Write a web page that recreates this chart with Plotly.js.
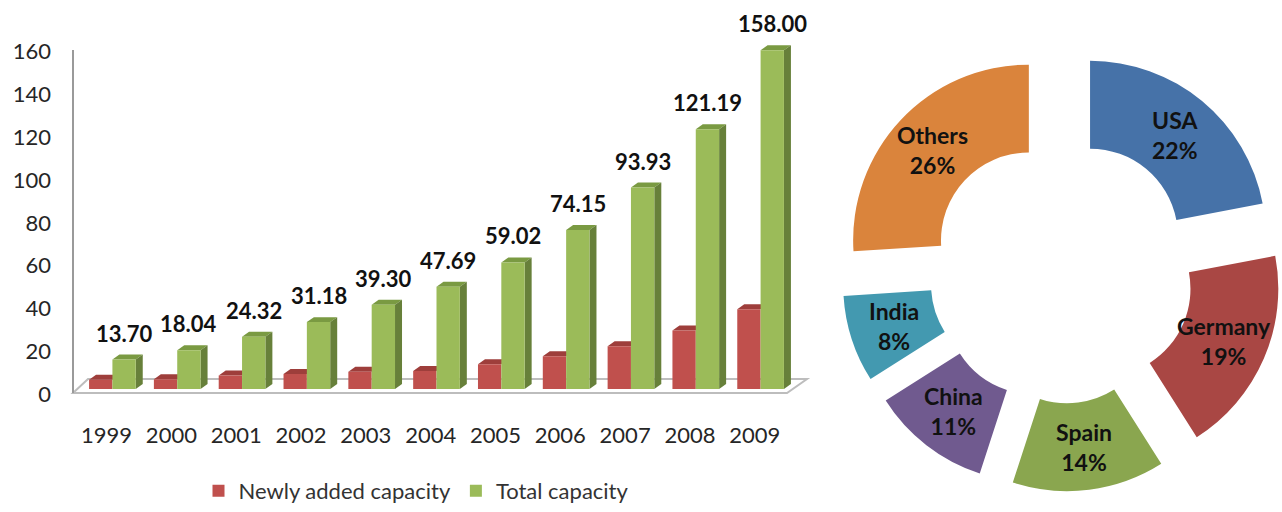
<!DOCTYPE html>
<html><head><meta charset="utf-8">
<script src="https://cdn.plot.ly/plotly-3.0.1.min.js"></script>
<style>html,body{margin:0;padding:0;background:#fff}#chart{width:1282px;height:512px}</style>
</head><body><div id="chart"></div>
<script>
// ---- data ----
const years = ['1999','2000','2001','2002','2003','2004','2005','2006','2007','2008','2009'];
const newlyAdded = [4.3, 4.5, 6.3, 7.0, 8.0, 8.4, 11.5, 15.3, 19.9, 27.3, 37.2];
const totalCapacity = [13.70, 18.04, 24.32, 31.18, 39.30, 47.69, 59.02, 74.15, 93.93, 121.19, 158.00];
const yTicks = [0, 20, 40, 60, 80, 100, 120, 140, 160];
const seriesNames = ['Newly added capacity', 'Total capacity'];
const countries = ['USA', 'Germany', 'Spain', 'China', 'India', 'Others'];
const shares = [22, 19, 14, 11, 8, 26];

// ---- styles ----
const W = 1282, H = 512;
const px = x => x / W, py = y => 1 - y / H;
const redFront = '#C0504D', redTop = '#9E3E3B';
const greenFront = '#9BBB59', greenTop = '#7A9A42', greenSide = '#67803A';
const countryColors = ['#4672A8', '#A94744', '#8AA64F', '#705A8F', '#4399B0', '#DA843C'];
const barW = 0.36, dX = 0.108, dY = 2.33;
const idx = years.map((_, i) => i);

// donut geometry (pixels)
const pieCx = 1062, pieCy = 271, pieBox = 442, pullFrac = 0.255, holeFrac = 0.5;
const pieR = pieBox / (2 + 2 * pullFrac);

const traces = [
  {type: 'bar', name: seriesNames[0], x: idx, y: newlyAdded, width: barW, offset: -barW,
   marker: {color: redFront, line: {width: 0}}, xaxis: 'x', yaxis: 'y', hoverinfo: 'skip'},
  {type: 'bar', name: seriesNames[1], x: idx, y: totalCapacity, width: barW, offset: 0,
   marker: {color: greenFront, line: {width: 0}}, xaxis: 'x', yaxis: 'y', hoverinfo: 'skip'},
  {type: 'pie', labels: countries, values: shares, sort: false, direction: 'clockwise', rotation: 0,
   hole: holeFrac, pull: pullFrac, marker: {colors: countryColors, line: {width: 0}},
   domain: {x: [px(pieCx - pieBox / 2), Math.min(1, px(pieCx + pieBox / 2))], y: [py(pieCy + pieBox / 2), py(pieCy - pieBox / 2)]},
   textinfo: 'none', showlegend: false, hoverinfo: 'skip'}
];

// 3D faces built from the data
const shapes = [];
idx.forEach(i => {
  const r = newlyAdded[i], g = totalCapacity[i];
  const rx0 = i - barW, rx1 = i, gx0 = i, gx1 = i + barW;
  shapes.push({type: 'path', xref: 'x', yref: 'y', layer: 'below', line: {width: 0}, fillcolor: redTop,
    path: `M${rx0},${r} L${rx0 + dX},${r + dY} L${rx1 + dX},${r + dY} L${rx1},${r} Z`});
  shapes.push({type: 'path', xref: 'x', yref: 'y', layer: 'below', line: {width: 0}, fillcolor: greenTop,
    path: `M${gx0},${g} L${gx0 + dX},${g + dY} L${gx1 + dX},${g + dY} L${gx1},${g} Z`});
  shapes.push({type: 'path', xref: 'x', yref: 'y', layer: 'below', line: {width: 0}, fillcolor: greenSide,
    path: `M${gx1},0 L${gx1},${g} L${gx1 + dX},${g + dY} L${gx1 + dX},${dY} Z`});
});
// floor and vertical axis line (decoration)
shapes.push({type: 'path', xref: 'paper', yref: 'paper', layer: 'below', fillcolor: 'rgba(0,0,0,0)',
  line: {color: '#BDBDBD', width: 2},
  path: `M${px(73)},${py(393)} L${px(787)},${py(393)} L${px(807)},${py(379)} L${px(88)},${py(379)} Z`});
shapes.push({type: 'line', xref: 'paper', yref: 'paper', layer: 'below', x0: px(73), x1: px(73), y0: py(50), y1: py(393),
  line: {color: '#9A9A9A', width: 2}});

const annotations = idx.map(i => ({
  x: i + barW / 2, y: totalCapacity[i], xref: 'x', yref: 'y', text: totalCapacity[i].toFixed(2),
  showarrow: false, yanchor: 'bottom', xanchor: 'center', yshift: 11,
  font: {family: 'Lato', size: 22, color: '#111', weight: 'bold'}
}));

// donut labels at slice centres (from the shares)
const totalShare = shares.reduce((a, b) => a + b, 0);
let cum = 0;
shares.forEach((s, k) => {
  const mid = (cum + s / 2) / totalShare * 2 * Math.PI;
  cum += s;
  const rr = pieR * (1 + holeFrac) / 2 + pieR * pullFrac;
  const lx = pieCx + rr * Math.sin(mid), ly = pieCy - rr * Math.cos(mid);
  annotations.push({x: px(lx), y: py(ly), xref: 'paper', yref: 'paper', showarrow: false,
    xanchor: 'center', yanchor: 'middle',
    text: countries[k] + '<br>' + Math.round(s / totalShare * 100) + '%',
    font: {family: 'Lato', size: 23, color: '#111', weight: 'bold'}});
});

const layout = {
  width: W, height: H, margin: {l: 0, r: 0, t: 0, b: 0, autoexpand: false},
  paper_bgcolor: '#fff', plot_bgcolor: 'rgba(0,0,0,0)',
  barmode: 'overlay', showlegend: true,
  font: {family: 'Lato', size: 22, color: '#262626'},
  xaxis: {domain: [px(80), px(793)], range: [-0.5, 10.5], tickvals: idx.map(i => i - 0.09), ticktext: years,
    showgrid: false, zeroline: false, showline: false, ticks: '', ticklabelstandoff: 25,
    tickfont: {family: 'Lato', size: 22, color: '#262626'}, fixedrange: true},
  yaxis: {domain: [py(395.4), py(24.5)], range: [-3, 170], tickvals: yTicks.map(v => v - 2.5),
    ticktext: yTicks.map(String), showgrid: false, zeroline: false, showline: false, ticks: '',
    anchor: 'free', position: px(73), ticklabelstandoff: 22,
    tickfont: {family: 'Lato', size: 22, color: '#262626'}, fixedrange: true},
  legend: {orientation: 'h', x: px(416), xanchor: 'center', y: 0, yanchor: 'bottom',
    font: {family: 'Lato', size: 22, color: '#333'}, itemwidth: 30, bgcolor: 'rgba(0,0,0,0)'},
  shapes, annotations
};

Plotly.newPlot('chart', traces, layout, {displayModeBar: false, staticPlot: true});
</script></body></html>
